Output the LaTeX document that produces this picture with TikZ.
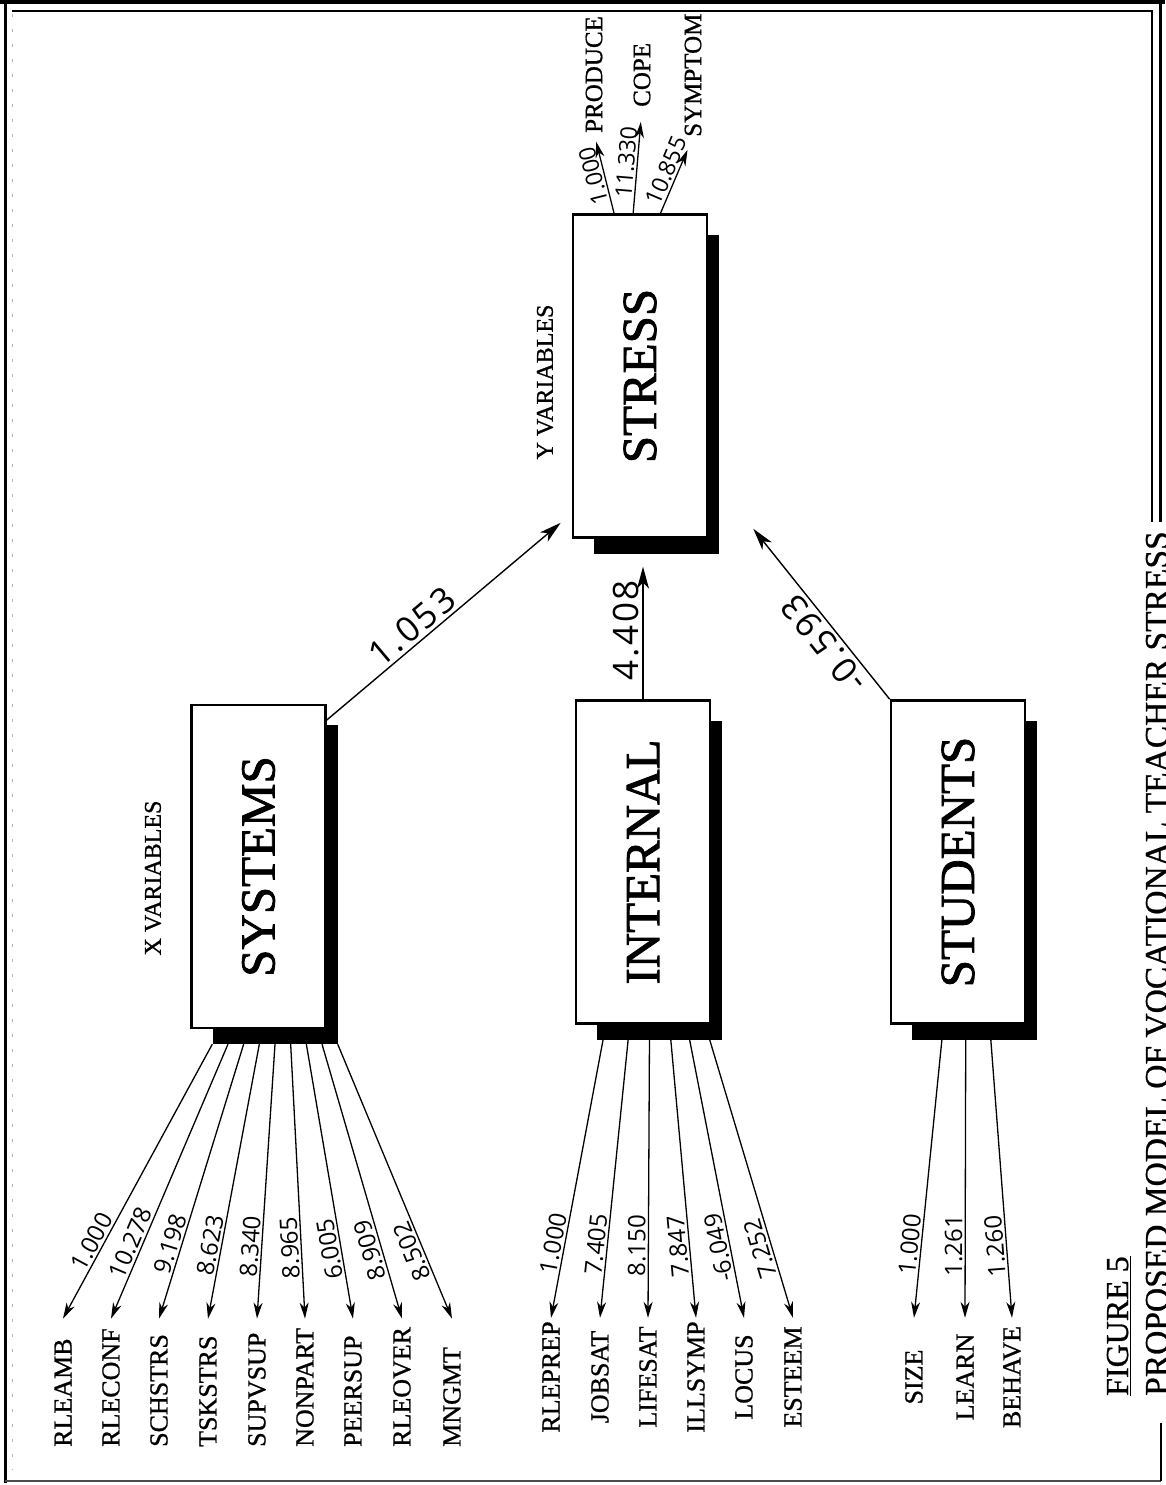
\documentclass[tikz,border=0pt]{standalone}
\usepackage{graphicx}
\usepackage{fontspec}
\setmainfont{Liberation Serif}
\newfontfamily\heavyfont{Liberation Serif}[FakeBold=1.6]
\newfontfamily\labelfont{Liberation Serif}[FakeBold=0.8]
\newfontfamily\numfont{Open Sans}
\newfontfamily\coeffont{Open Sans}[LetterSpace=8]
\usetikzlibrary{arrows.meta,calc}

\begin{document}
\begin{tikzpicture}[x=1pt,y=-1pt,
  latent/.style={draw, line width=2.6pt, fill=white, minimum width=134pt, minimum height=323pt,
    inner sep=0pt, font=\heavyfont\fontsize{49}{49}\selectfont},
  shade/.style={fill=black, minimum width=125pt, minimum height=319pt, inner sep=0pt},
  obsL/.style={rotate=90, anchor=west, text width=128pt, align=left, inner sep=0pt,
    font=\labelfont\fontsize{26}{26}\selectfont},
  obsC/.style={rotate=90, anchor=center, text width=118pt, align=center, inner sep=0pt,
    font=\labelfont\fontsize{26}{26}\selectfont},
  obsU/.style={rotate=90, anchor=west, inner sep=0pt, font=\labelfont\fontsize{25}{25}\selectfont},
  heading/.style={rotate=90, inner sep=0pt, font=\labelfont\fontsize{24}{24}\selectfont},
  obsarr/.style={{Stealth[length=16pt,width=9pt,inset=5pt]}-, line width=1.3pt},
  uparr/.style={-{Stealth[length=16pt,width=9pt,inset=5pt]}, line width=1.3pt},
  mainarr/.style={-{Stealth[length=22pt,width=12pt,inset=6pt]}, line width=1.4pt},
  load/.style={pos=0.26, sloped, above, allow upside down, inner sep=2pt,
    font=\numfont\fontsize{24}{24}\selectfont},
  loadU/.style={pos=0.5, sloped, above, allow upside down, inner sep=2pt,
    font=\numfont\fontsize{23}{23}\selectfont},
  coef/.style={sloped, above, allow upside down, inner sep=3pt,
    font=\coeffont\fontsize{35}{35}\selectfont},
]
\useasboundingbox (0,0) rectangle (1165,1485);
\fill[white] (0,0) rectangle (1165,1485);

% page frame
\draw[line width=3pt] (5,0) -- (5,1483);
\draw[gray!60, line width=0.8pt, dash pattern=on 3pt off 12pt] (12,14) -- (12,1470);
\draw[line width=3.5pt] (0,2) -- (1165,2);
\draw[line width=1.2pt] (12,11) -- (1152,11) -- (1152,522);
\draw[line width=3pt] (1160,0) -- (1160,522);
\draw[line width=2pt, black!70] (5,1481) -- (1161,1481);
\draw[line width=1.5pt] (1161,1423) -- (1161,1481);

% drop shadows of the latent variables
\node[shade] (strS) at (656.5,394) {};
\node[shade] (sysS) at (275,884.5) {};
\node[shade] (intS) at (659.5,880) {};
\node[shade] (stuS) at (974.5,880) {};

% latent variables
\node[latent] (strB) at (640,376) {\rotatebox{90}{STRESS}};
\node[latent] (sysB) at (258.5,866.5) {\rotatebox{90}{SYSTEMS}};
\node[latent] (intB) at (643,862) {\rotatebox{90}{INTERNAL}};
\node[latent] (stuB) at (958,862) {\rotatebox{90}{STUDENTS}};

\node[heading] (xvar) at (153,878) {X VARIABLES};
\node[heading] (yvar) at (545,382) {Y VARIABLES};

% indicators of SYSTEMS
\foreach \nm/\px/\tx in {rleamb/63/RLEAMB, rleconf/111/RLECONF, schstrs/159/SCHSTRS,
    tskstrs/208/TSKSTRS, supvsup/257/SUPVSUP, nonpart/305/NONPART, peersup/353/PEERSUP,
    rleover/402/RLEOVER, mngmt/452/MNGMT}
  \node[obsL] (\nm) at (\px,1447) {\tx};
\foreach \nm/\f/\v in {rleamb/0/1.000, rleconf/0.125/10.278, schstrs/0.25/9.198,
    tskstrs/0.375/8.623, supvsup/0.5/8.340, nonpart/0.625/8.965, peersup/0.75/6.005,
    rleover/0.875/8.909, mngmt/1/8.502}
  \draw[obsarr] (\nm.east) -- node[load] {\v} ($(sysS.south west)!\f!(sysS.south east)$);

% indicators of INTERNAL
\foreach \nm/\px/\tx in {rleprep/551/RLEPREP, jobsat/600/JOBSAT, lifesat/648/LIFESAT,
    illsymp/696/ILLSYMP, locus/744/LOCUS, esteem/793/ESTEEM}
  \node[obsC] (\nm) at (\px,1377) {\tx};
\foreach \nm/\f/\v in {rleprep/0.05/1.000, jobsat/0.25/7.405, lifesat/0.42/8.150,
    illsymp/0.59/7.847, locus/0.74/-6.049, esteem/0.9/7.252}
  \draw[obsarr] (\nm.east) -- node[load] {\v} ($(intS.south west)!\f!(intS.south east)$);

% indicators of STUDENTS
\foreach \nm/\px/\tx in {size/914/SIZE, learn/965/LEARN, behave/1012/BEHAVE}
  \node[obsC] (\nm) at (\px,1377) {\tx};
\foreach \nm/\f/\v in {size/0.24/1.000, learn/0.43/1.261, behave/0.63/1.260}
  \draw[obsarr] (\nm.east) -- node[load] {\v} ($(stuS.south west)!\f!(stuS.south east)$);

% indicators of STRESS
\node[obsU] (produce) at (594,133) {PRODUCE};
\node[obsU] (cope) at (642,107) {COPE};
\node[obsU] (symptom) at (693,137) {SYMPTOM};
\draw[uparr, shorten >=9pt] ($(strB.north west)!0.31!(strB.north east)$)
  -- node[loadU] {1.000} (produce.west);
\draw[uparr, shorten >=15pt] ($(strB.north west)!0.45!(strB.north east)$)
  -- node[loadU, pos=0.47] {11.330} (cope.west);
\draw[uparr, shorten >=14pt] ($(strB.north west)!0.65!(strB.north east)$)
  -- node[loadU] {10.855} (symptom.west);

% structural paths
\draw[mainarr] ($(sysB.north east)!0.05!(sysB.south east)$)
  -- node[coef, pos=0.41] {1.053} ($(strB.south west)+(-11,-16)$);
\draw[mainarr] (intB.north)
  -- node[coef, pos=0.52] {4.408} ($(intB.north |- strS.south)+(0,13)$);
\draw[mainarr] (stuB.north west)
  -- node[coef, pos=0.385] {-0.593} ($(strB.south east)+(45,-10)$);

% caption
\node[rotate=90, anchor=base west, inner sep=0pt, font=\labelfont\fontsize{32}{32}\selectfont]
  (fig) at (1128,1396) {\underline{FIGURE 5}};
\node[rotate=90, anchor=base west, inner sep=0pt, font=\labelfont\fontsize{33.5}{34}\selectfont]
  (cap) at (1168,1396) {PROPOSED MODEL OF VOCATIONAL TEACHER STRESS};
\end{tikzpicture}
\end{document}
